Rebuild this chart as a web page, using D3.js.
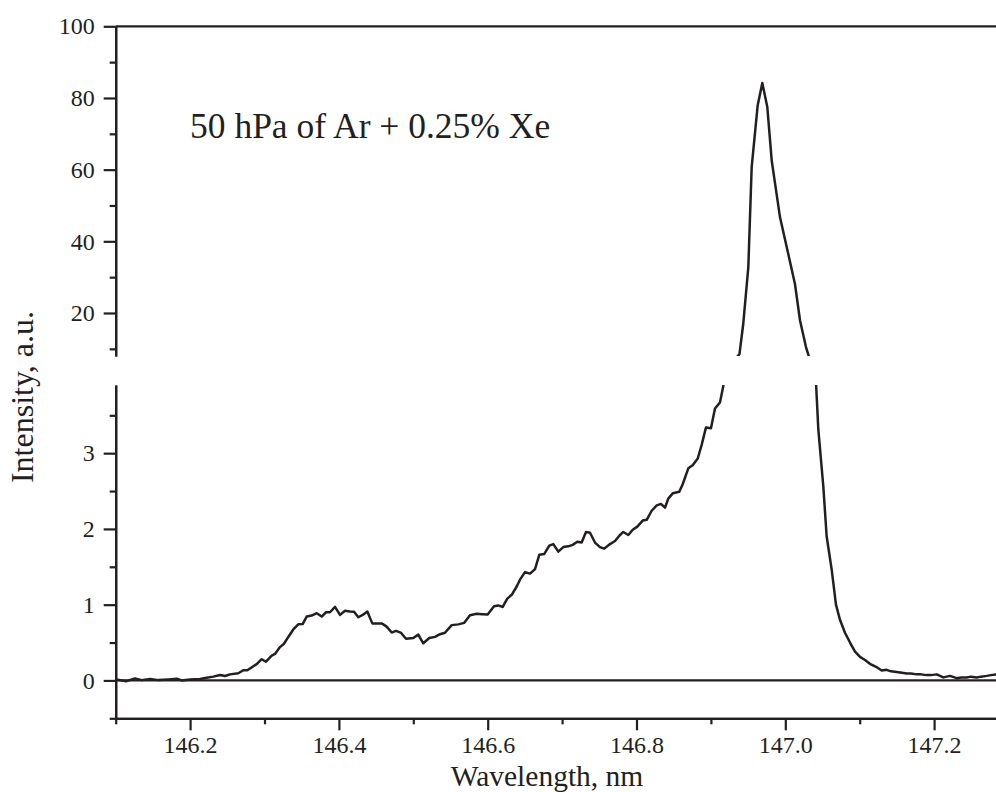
<!DOCTYPE html>
<html>
<head>
<meta charset="utf-8">
<script src="https://cdn.jsdelivr.net/npm/d3@7"></script>
<style>
  html, body { margin: 0; padding: 0; background: #fff; }
  svg { display: block; }
</style>
</head>
<body>
<svg id="chart" width="996" height="792"></svg>
<script>
// ---- data ----
const wavelength = [
  146.1000,146.1148,146.1259,146.1349,146.1461,146.1573,146.1707,146.1820,146.1887,146.1999,
  146.2133,146.2223,146.2312,146.2402,146.2469,146.2536,146.2648,146.2715,146.2769,146.2895,
  146.2962,146.3020,146.3097,146.3141,146.3208,146.3262,146.3320,146.3387,146.3454,146.3513,
  146.3567,146.3634,146.3702,146.3769,146.3827,146.3880,146.3948,146.4015,146.4082,146.4149,
  146.4203,146.4261,146.4320,146.4382,146.4449,146.4508,146.4575,146.4642,146.4710,146.4767,
  146.4831,146.4902,146.5000,146.5067,146.5134,146.5215,146.5292,146.5359,146.5426,146.5516,
  146.5605,146.5685,146.5762,146.5852,146.5923,146.6000,146.6085,146.6142,146.6202,146.6263,
  146.6323,146.6390,146.6434,146.6501,146.6569,146.6636,146.6694,146.6761,146.6828,146.6882,
  146.6949,146.7016,146.7083,146.7142,146.7204,146.7263,146.7321,146.7375,146.7442,146.7509,
  146.7567,146.7644,146.7711,146.7769,146.7823,146.7890,146.7949,146.8011,146.8083,146.8137,
  146.8204,146.8272,146.8329,146.8383,146.8427,146.8487,146.8575,146.8621,146.8696,146.8755,
  146.8823,146.8876,146.8934,146.9001,146.9055,146.9122,146.9210,146.9297,146.9384,146.9435,
  146.9503,146.9548,146.9629,146.9691,146.9758,146.9817,146.9929,147.0019,147.0130,147.0198,
  147.0278,147.0359,147.0444,147.0511,147.0556,147.0624,147.0681,147.0735,147.0802,147.0870,
  147.0937,147.1004,147.1071,147.1138,147.1219,147.1296,147.1363,147.1421,147.1497,147.1569,
  147.1632,147.1690,147.1766,147.1824,147.1900,147.1958,147.2035,147.2124,147.2214,147.2304,
  147.2362,147.2438,147.2496,147.2573,147.2630,147.2707,147.2765,147.2832,147.2900
];
const intensity = [
  0.013,-0.010,0.027,0.004,0.018,0.004,0.013,0.022,0.000,0.013,
  0.018,0.036,0.050,0.072,0.058,0.080,0.094,0.135,0.135,0.215,
  0.280,0.247,0.327,0.350,0.440,0.484,0.574,0.673,0.740,0.744,
  0.843,0.856,0.888,0.843,0.900,0.900,0.970,0.865,0.920,0.910,
  0.906,0.834,0.865,0.910,0.753,0.753,0.753,0.710,0.632,0.655,
  0.632,0.550,0.560,0.605,0.490,0.560,0.575,0.610,0.630,0.730,
  0.740,0.760,0.860,0.880,0.875,0.870,0.980,0.990,0.970,1.080,
  1.130,1.240,1.330,1.430,1.410,1.470,1.660,1.670,1.780,1.800,
  1.700,1.760,1.770,1.790,1.830,1.820,1.960,1.950,1.820,1.760,
  1.740,1.800,1.840,1.910,1.960,1.920,1.990,2.030,2.110,2.120,
  2.240,2.310,2.330,2.280,2.400,2.470,2.490,2.590,2.800,2.840,
  2.930,3.110,3.340,3.330,3.590,3.670,4.100,6.500,8.500,17.00,
  32.80,60.70,78.00,84.20,77.50,62.60,46.70,38.40,28.10,17.90,
  10.50,5.000,3.310,2.560,1.900,1.460,1.000,0.800,0.630,0.500,
  0.380,0.310,0.270,0.220,0.180,0.130,0.140,0.120,0.110,0.100,
  0.090,0.090,0.080,0.080,0.070,0.070,0.080,0.040,0.060,0.030,
  0.040,0.040,0.050,0.040,0.050,0.060,0.070,0.080,0.080
];
const xMajorTicks = [146.2, 146.4, 146.6, 146.8, 147.0, 147.2];
const xMinorTicks = [146.1, 146.3, 146.5, 146.7, 146.9, 147.1, 147.3];
const upperMajorTicks = [20, 40, 60, 80, 100];
const upperMinorTicks = [10, 30, 50, 70, 90];
const lowerMajorTicks = [0, 1, 2, 3];
const lowerMinorTicks = [-0.5, 0.5, 1.5, 2.5, 3.5];
const xDomain = [146.1, 147.3];
const upperDomain = [8, 100];
const lowerDomain = [-0.5, 3.9];
const titleText = "50 hPa of Ar + 0.25% Xe";
const xLabel = "Wavelength, nm";
const yLabel = "Intensity, a.u.";

// ---- drawing ----
const ink = "#231f20";
const font = "'Liberation Serif', 'Times New Roman', Times, serif";
const svg = d3.select("#chart");

const left = 115.7, pxPerUnit = 744;
const x = d3.scaleLinear().domain(xDomain).range([left, left + (xDomain[1] - xDomain[0]) * pxPerUnit]);
const yUp = d3.scaleLinear().domain(upperDomain).range([356, 26.3]);
const yLow = d3.scaleLinear().domain(lowerDomain).range([718.3, 385]);

const data = wavelength.map((w, i) => ({w, v: intensity[i]}));

const defs = svg.append("defs");
defs.append("clipPath").attr("id", "clipUp").append("rect")
  .attr("x", left).attr("y", yUp(upperDomain[1])).attr("width", 996 - left)
  .attr("height", yUp(upperDomain[0]) - yUp(upperDomain[1]));
defs.append("clipPath").attr("id", "clipLow").append("rect")
  .attr("x", left).attr("y", yLow(lowerDomain[1])).attr("width", 996 - left)
  .attr("height", yLow(lowerDomain[0]) - yLow(lowerDomain[1]));

// frame lines: top line and zero line
svg.append("line").attr("x1", left).attr("x2", x(xDomain[1]))
  .attr("y1", yUp(100)).attr("y2", yUp(100)).attr("stroke", ink).attr("stroke-width", 2.2);
svg.append("line").attr("x1", left).attr("x2", x(xDomain[1]))
  .attr("y1", yLow(0)).attr("y2", yLow(0)).attr("stroke", ink).attr("stroke-width", 2.2);

function styleAxis(g) {
  g.attr("font-family", font).attr("font-size", 24);
  g.selectAll("path.domain").attr("stroke", ink).attr("stroke-width", 2.2);
  g.selectAll(".tick line").attr("stroke", ink).attr("stroke-width", 2.2);
  g.selectAll(".tick text").attr("fill", ink);
}

// upper left axis
svg.append("g").attr("transform", `translate(${left},0)`)
  .call(d3.axisLeft(yUp).tickValues(upperMinorTicks).tickSize(6).tickSizeOuter(0).tickFormat(""))
  .call(styleAxis);
svg.append("g").attr("transform", `translate(${left},0)`)
  .call(d3.axisLeft(yUp).tickValues(upperMajorTicks).tickSize(12).tickSizeOuter(0).tickPadding(9).tickFormat(d3.format("d")))
  .call(styleAxis);

// lower left axis
svg.append("g").attr("transform", `translate(${left},0)`)
  .call(d3.axisLeft(yLow).tickValues(lowerMinorTicks).tickSize(6).tickSizeOuter(0).tickFormat(""))
  .call(styleAxis);
svg.append("g").attr("transform", `translate(${left},0)`)
  .call(d3.axisLeft(yLow).tickValues(lowerMajorTicks).tickSize(12).tickSizeOuter(0).tickPadding(9).tickFormat(d3.format("d")))
  .call(styleAxis);

// bottom axis
const yb = yLow(lowerDomain[0]);
svg.append("g").attr("transform", `translate(0,${yb})`)
  .call(d3.axisBottom(x).tickValues(xMinorTicks).tickSize(6).tickSizeOuter(0).tickFormat(""))
  .call(styleAxis);
svg.append("g").attr("transform", `translate(0,${yb})`)
  .call(d3.axisBottom(x).tickValues(xMajorTicks).tickSize(12).tickSizeOuter(0).tickPadding(6).tickFormat(d3.format(".1f")))
  .call(styleAxis);

// data line in both panels
const lineUp = d3.line().x(d => x(d.w)).y(d => yUp(d.v));
const lineLow = d3.line().x(d => x(d.w)).y(d => yLow(d.v));
svg.append("path").datum(data).attr("clip-path", "url(#clipUp)")
  .attr("d", lineUp).attr("fill", "none").attr("stroke", ink)
  .attr("stroke-width", 2.5).attr("stroke-linejoin", "round");
svg.append("path").datum(data).attr("clip-path", "url(#clipLow)")
  .attr("d", lineLow).attr("fill", "none").attr("stroke", ink)
  .attr("stroke-width", 2.5).attr("stroke-linejoin", "round");

// texts
svg.append("text").attr("x", 190).attr("y", 138)
  .attr("font-family", font).attr("font-size", 35.5).attr("fill", ink).text(titleText);
svg.append("text").attr("x", 547).attr("y", 785.5).attr("text-anchor", "middle")
  .attr("font-family", font).attr("font-size", 29.5).attr("fill", ink).text(xLabel);
svg.append("text").attr("transform", "translate(33,397) rotate(-90)").attr("text-anchor", "middle")
  .attr("font-family", font).attr("font-size", 32).attr("fill", ink).text(yLabel);
</script>
</body>
</html>
